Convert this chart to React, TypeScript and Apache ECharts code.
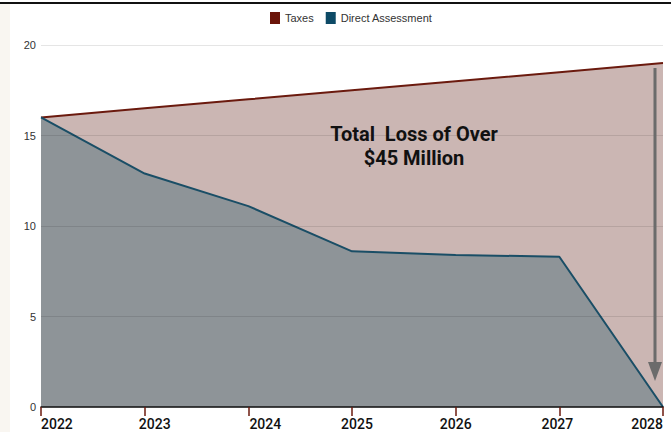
import React, { useEffect, useRef } from "react";
import * as echarts from "echarts";

const years = ["2022", "2023", "2024", "2025", "2026", "2027", "2028"];
const taxes = [16, 16.5, 17, 17.5, 18, 18.5, 19];
const directAssessment = [16, 12.9, 11.1, 8.6, 8.4, 8.3, 0];
const yTicks = { min: 0, max: 20, interval: 5 };
const noteLines = ["Total  Loss of Over", "$45 Million"];
// label nudges (style only), in px to the right of each tick
const labelShift = [0, 10, 17, 5, 0, -2, 0];

export default function App() {
  const ref = useRef<HTMLDivElement>(null);
  useEffect(() => {
    document.body.style.margin = "0";
    const chart = echarts.init(ref.current!, null, { renderer: "svg" });
    const last = years.length - 1;
    chart.setOption({
      animation: false,
      backgroundColor: "#ffffff",
      legend: {
        top: 7,
        left: 265,
        itemWidth: 10,
        itemHeight: 12,
        itemGap: 12,
        icon: "rect",
        textStyle: { fontFamily: "Liberation Sans, Arial", fontSize: 11, color: "#333" },
        data: [
          { name: "Taxes", itemStyle: { color: "#6b1409" } },
          { name: "Direct Assessment", itemStyle: { color: "#0d4a66" } },
        ],
      },
      grid: { left: 41, right: 8, top: 45, bottom: 25, containLabel: false, outerBoundsMode: "none" },
      xAxis: {
        type: "category",
        data: years.map((y, i) => ({
          value: y,
          textStyle:
            i === 0
              ? { align: "left" }
              : i === last
              ? { align: "right" }
              : {
                  align: "center",
                  padding: labelShift[i] >= 0 ? [0, 0, 0, 2 * labelShift[i]] : [0, -2 * labelShift[i], 0, 0],
                },
        })),
        boundaryGap: false,
        z: 5,
        axisLine: { show: true, lineStyle: { color: "#111", width: 1.5 } },
        axisTick: { show: true, length: 9, lineStyle: { color: "#6b1a0e", width: 1.5 } },
        axisLabel: {
          margin: 10,
          fontFamily: "Roboto",
          fontWeight: 500,
          fontSize: 14,
          lineHeight: 14,
          color: "#111",
        },
        splitLine: { show: false },
      },
      yAxis: {
        type: "value",
        min: yTicks.min,
        max: yTicks.max,
        interval: yTicks.interval,
        z: 4,
        axisLine: { show: false },
        axisTick: { show: false },
        axisLabel: { margin: 5, fontFamily: "Liberation Sans, Arial", fontSize: 11, color: "#333" },
        splitLine: { show: true, lineStyle: { color: "rgba(0,0,0,0.1)", width: 1 } },
      },
      series: [
        {
          name: "Taxes",
          type: "line",
          data: taxes,
          symbol: "none",
          z: 2,
          lineStyle: { color: "#6b1a0e", width: 2 },
          itemStyle: { color: "#6b1409" },
          areaStyle: { color: "#cbb6b3", opacity: 1 },
        },
        {
          name: "Direct Assessment",
          type: "line",
          data: directAssessment,
          symbol: "none",
          z: 3,
          lineStyle: { color: "#1a4e66", width: 2 },
          itemStyle: { color: "#0d4a66" },
          areaStyle: { color: "#8e9498", opacity: 1 },
        },
      ],
      graphic: [
        { type: "rect", shape: { x: 0, y: 2, width: 671, height: 2 }, style: { fill: "#111" }, z: 10 },
        { type: "rect", shape: { x: 0, y: 4, width: 10, height: 428 }, style: { fill: "#f9f6f1" }, z: 10 },
        {
          type: "line",
          shape: { x1: 655, y1: 68, x2: 655, y2: 364 },
          style: { stroke: "#6b6b6b", lineWidth: 3 },
          z: 10,
        },
        {
          type: "polygon",
          shape: { points: [[648, 362], [662, 362], [655, 381]] },
          style: { fill: "#6b6b6b" },
          z: 10,
        },
        {
          type: "text",
          x: 414,
          y: 134,
          style: {
            text: noteLines[0],
            fontFamily: "Roboto",
            fontWeight: "bold",
            fontSize: 20,
            fill: "#111",
            align: "center",
            verticalAlign: "middle",
          },
          z: 10,
        },
        {
          type: "text",
          x: 414,
          y: 158,
          style: {
            text: noteLines[1],
            fontFamily: "Roboto",
            fontWeight: "bold",
            fontSize: 20,
            fill: "#111",
            align: "center",
            verticalAlign: "middle",
          },
          z: 10,
        },
      ],
    });
    return () => chart.dispose();
  }, []);
  return <div ref={ref} style={{ width: 671, height: 432 }} />;
}
